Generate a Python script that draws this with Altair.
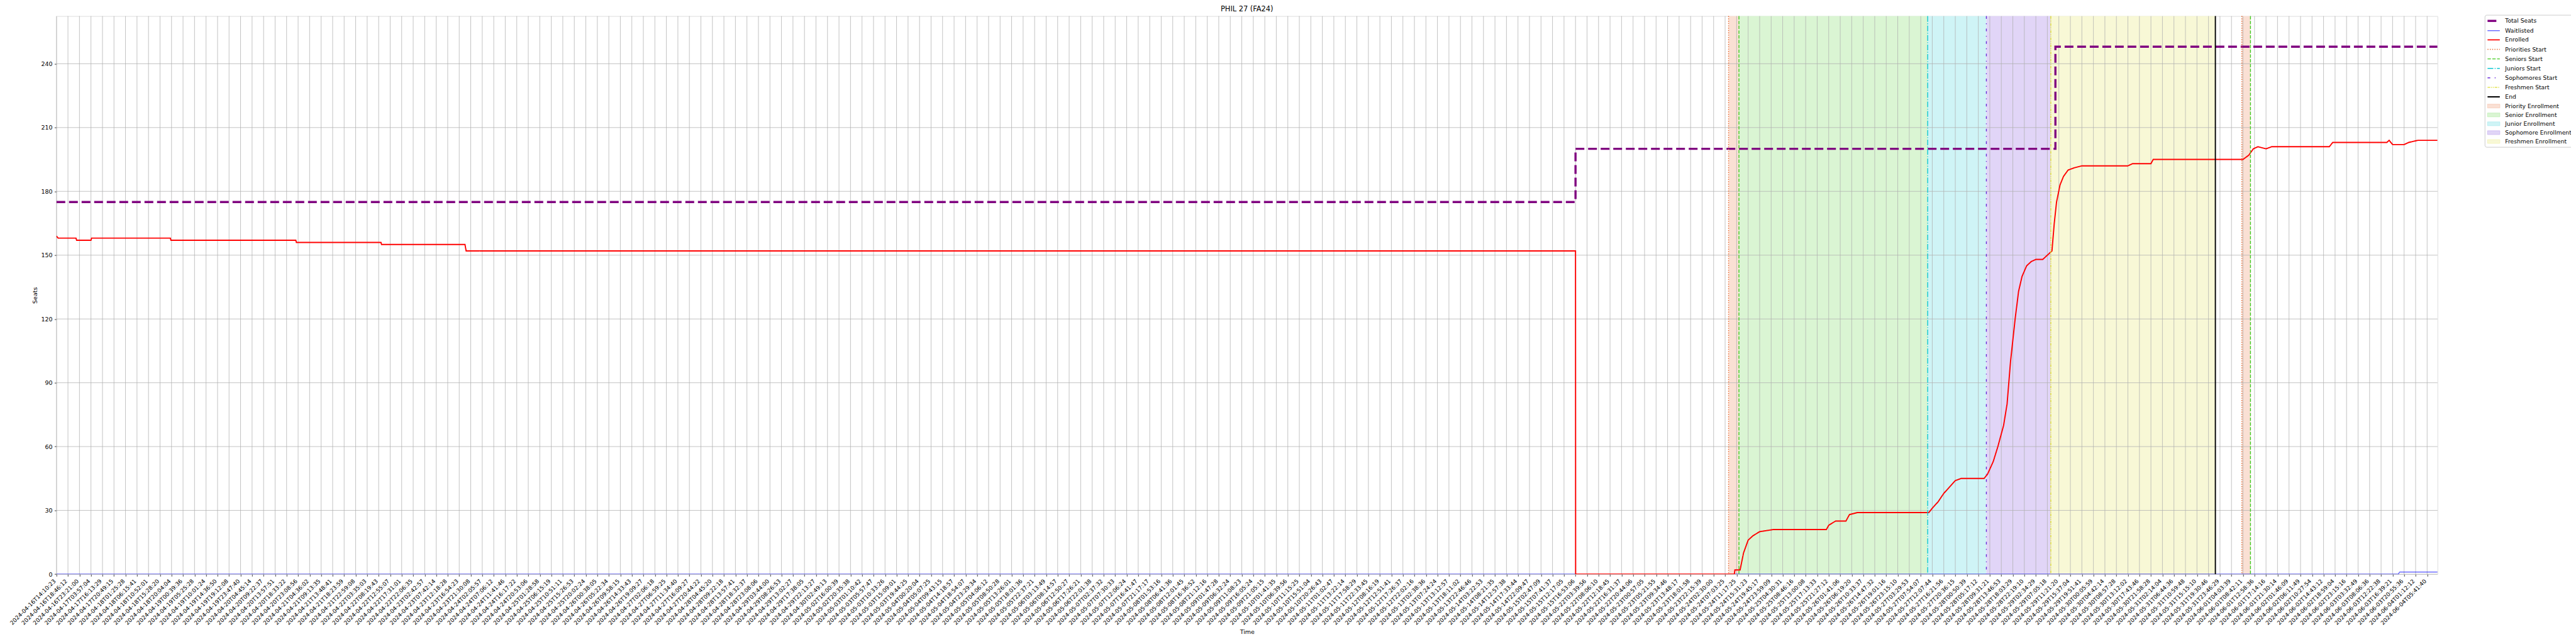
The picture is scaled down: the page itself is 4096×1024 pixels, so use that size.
import json
import altair as alt
import pandas as pd

# ---------------- data ----------------
tick_labels = [
"2024-04-16T14:10:23","2024-04-16T18:46:12","2024-04-16T23:21:00","2024-04-17T03:57:04","2024-04-17T16:13:29",
"2024-04-17T20:49:15","2024-04-18T01:25:28","2024-04-18T06:15:41","2024-04-18T10:52:01","2024-04-18T15:28:20",
"2024-04-18T20:04:04","2024-04-19T00:39:36","2024-04-19T05:25:28","2024-04-19T10:01:24","2024-04-19T14:36:50",
"2024-04-19T19:12:08","2024-04-19T23:47:40","2024-04-20T04:45:14","2024-04-20T09:22:37","2024-04-20T13:57:51",
"2024-04-20T18:33:22","2024-04-20T23:08:56","2024-04-21T04:36:02","2024-04-21T09:13:35","2024-04-21T13:48:41",
"2024-04-21T18:23:59","2024-04-21T22:59:08","2024-04-22T03:35:03","2024-04-22T08:19:43","2024-04-22T12:55:07",
"2024-04-22T17:31:01","2024-04-22T22:06:35","2024-04-23T02:42:57","2024-04-23T07:42:14","2024-04-23T12:18:28",
"2024-04-23T16:54:23","2024-04-23T21:30:08","2024-04-24T02:05:57","2024-04-24T07:06:12","2024-04-24T11:41:46",
"2024-04-24T16:17:22","2024-04-24T20:53:06","2024-04-25T01:28:58","2024-04-25T06:15:19","2024-04-25T10:51:11",
"2024-04-25T15:26:53","2024-04-25T20:02:24","2024-04-26T00:38:05","2024-04-26T05:22:34","2024-04-26T09:58:15",
"2024-04-26T14:33:43","2024-04-26T19:09:27","2024-04-27T02:06:18","2024-04-27T06:59:25","2024-04-27T11:34:40",
"2024-04-27T16:09:27","2024-04-27T20:44:22","2024-04-28T04:45:20","2024-04-28T09:22:18","2024-04-28T13:57:41",
"2024-04-28T18:32:37","2024-04-28T23:08:06","2024-04-29T03:44:00","2024-04-29T08:26:53","2024-04-29T13:02:27",
"2024-04-29T17:38:05","2024-04-29T22:13:27","2024-04-30T02:49:13","2024-05-02T16:00:39","2024-05-02T20:35:38",
"2024-05-03T01:10:42","2024-05-03T05:57:47","2024-05-03T10:33:26","2024-05-03T15:09:01","2024-05-03T19:44:25",
"2024-05-04T00:20:04","2024-05-04T05:07:25","2024-05-04T09:43:15","2024-05-04T14:18:57","2024-05-04T18:54:07",
"2024-05-04T23:29:34","2024-05-05T04:06:12","2024-05-05T08:50:28","2024-05-05T13:26:01","2024-05-05T18:01:36",
"2024-05-05T22:37:21","2024-05-06T03:13:49","2024-05-06T08:14:57","2024-05-06T12:50:27","2024-05-06T17:26:21",
"2024-05-06T22:01:38","2024-05-07T02:37:32","2024-05-07T07:30:33","2024-05-07T12:06:24","2024-05-07T16:41:47",
"2024-05-07T21:17:17","2024-05-08T01:53:16","2024-05-08T06:41:36","2024-05-08T12:01:45","2024-05-08T16:36:52",
"2024-05-08T21:12:16","2024-05-09T01:47:28","2024-05-09T06:32:24","2024-05-09T11:08:23","2024-05-09T16:05:24",
"2024-05-09T21:05:15","2024-05-10T01:41:35","2024-05-10T06:39:56","2024-05-10T11:15:25","2024-05-10T15:51:04",
"2024-05-10T20:26:43","2024-05-11T01:02:47","2024-05-11T13:22:14","2024-05-11T17:58:29","2024-05-11T22:33:45",
"2024-05-12T08:16:19","2024-05-12T12:51:41","2024-05-12T17:26:37","2024-05-12T22:02:16","2024-05-13T02:38:36",
"2024-05-13T07:24:24","2024-05-13T13:12:57","2024-05-13T18:11:02","2024-05-13T22:46:46","2024-05-14T03:22:53",
"2024-05-14T08:21:35","2024-05-14T12:57:38","2024-05-14T17:33:44","2024-05-14T22:09:47","2024-05-15T02:47:09",
"2024-05-15T07:41:37","2024-05-15T12:17:05","2024-05-15T16:53:06","2024-05-22T03:39:56","2024-05-22T08:06:10",
"2024-05-22T12:18:45","2024-05-22T16:31:37","2024-05-22T20:44:06","2024-05-23T00:57:05","2024-05-23T05:21:55",
"2024-05-23T09:34:46","2024-05-23T13:48:17","2024-05-23T18:01:58","2024-05-23T22:15:39","2024-05-24T02:30:00",
"2024-05-24T07:03:25","2024-05-24T11:17:25","2024-05-24T15:31:23","2024-05-24T19:45:17","2024-05-24T23:59:09",
"2024-05-25T04:30:31","2024-05-25T08:46:16","2024-05-25T13:00:08","2024-05-25T17:13:33","2024-05-25T21:27:12",
"2024-05-26T01:41:06","2024-05-26T06:19:20","2024-05-26T10:33:37","2024-05-26T14:47:32","2024-05-26T19:01:16",
"2024-05-26T23:15:10","2024-05-27T03:29:53","2024-05-27T07:54:07","2024-05-27T12:07:44","2024-05-27T16:21:56",
"2024-05-27T20:36:15","2024-05-28T00:50:39","2024-05-28T05:17:12","2024-05-28T09:31:21","2024-05-28T13:46:53",
"2024-05-28T18:03:29","2024-05-28T22:19:10","2024-05-29T02:34:29","2024-05-29T07:05:18","2024-05-29T11:21:20",
"2024-05-29T15:37:04","2024-05-29T19:51:41","2024-05-30T00:05:59","2024-05-30T04:42:14","2024-05-30T08:57:28",
"2024-05-30T13:12:02","2024-05-30T17:43:46","2024-05-30T21:58:28","2024-05-31T02:14:04","2024-05-31T06:44:36",
"2024-05-31T10:59:48","2024-05-31T15:15:10","2024-05-31T19:30:46","2024-05-31T23:46:29","2024-06-01T04:03:39",
"2024-06-01T08:42:11","2024-06-01T12:58:36","2024-06-01T17:14:16","2024-06-01T21:30:14","2024-06-02T01:46:09",
"2024-06-02T06:11:49","2024-06-02T10:27:54","2024-06-02T14:43:12","2024-06-02T18:59:04","2024-06-02T23:15:16",
"2024-06-03T03:32:49","2024-06-03T08:06:36","2024-06-03T12:22:38","2024-06-03T16:39:21","2024-06-03T20:55:36",
"2024-06-04T01:12:12","2024-06-04T05:41:40",
]
tick_positions = list(range(len(tick_labels)))
y_ticks = [0, 30, 60, 90, 120, 150, 180, 210, 240]

X_MAX = 206.9
Y_MAX = 262.4

# Total Seats (x in tick-index units)
seats_t = [0, 132.0, 132.0, 173.7, 173.7, 206.9]
seats_v = [175, 175, 200, 200, 248, 248]

# Waitlisted
wait_t = [0, 203.5, 203.6, 206.9]
wait_v = [0, 0, 1, 1]

# Enrolled
enr_t = [0, 0.15, 1.7, 1.75, 3.0, 3.05, 9.9, 9.95, 20.8, 20.85, 28.2, 28.25, 35.5, 35.6,
         132.0, 132.01, 145.8, 145.85, 146.3, 146.6, 147.0, 147.4, 148.0, 149.2, 153.8, 154.0,
         154.6, 155.5, 155.8, 156.5, 162.7, 163.0, 163.5, 164.0, 164.5, 165.0, 165.5, 167.5,
         167.8, 168.3, 168.7, 169.2, 169.5, 169.8, 170.2, 170.5, 170.8, 171.2, 171.6, 172.0,
         172.6, 173.0, 173.4, 173.6, 173.8, 174.1, 174.4, 174.8, 175.3, 176.0, 180.0, 180.4,
         182.0, 182.2, 190.0, 190.5, 190.9, 191.3, 192.0, 192.5, 197.5, 197.8, 202.5, 202.7,
         203.0, 204.0, 204.4, 205.2, 206.9]
enr_v = [159, 158, 158, 157, 157, 158, 158, 157, 157, 156, 156, 155, 155, 152,
         152, 0, 0, 2, 2, 10, 16, 18, 20, 21, 21, 23,
         25, 25, 28, 29, 29, 31, 34, 38, 41, 44, 45, 45,
         47, 53, 60, 70, 80, 100, 120, 133, 140, 145, 147, 148,
         148, 150, 152, 165, 175, 183, 187, 190, 191, 192, 192, 193,
         193, 195, 195, 197, 200, 201, 200, 201, 201, 203, 203, 204,
         202, 202, 203, 204, 204]

# vertical marker lines
vline_names = ["Priorities Start", "Seniors Start", "Juniors Start", "Sophomores Start",
               "Freshmen Start", "End", "Priorities Start", "Seniors Start"]
vline_t = [145.3, 146.2, 162.6, 167.7, 173.3, 187.6, 189.9, 190.65]

# shaded enrollment periods
period_names = ["Priority Enrollment", "Senior Enrollment", "Junior Enrollment",
                "Sophomore Enrollment", "Freshmen Enrollment", "Priority Enrollment"]
period_start = [145.3, 146.2, 162.6, 167.7, 173.3, 189.9]
period_end = [146.2, 162.6, 167.7, 173.3, 187.6, 190.65]

# legend entries
legend_names = ["Total Seats", "Waitlisted", "Enrolled", "Priorities Start", "Seniors Start",
                "Juniors Start", "Sophomores Start", "Freshmen Start", "End",
                "Priority Enrollment", "Senior Enrollment", "Junior Enrollment",
                "Sophomore Enrollment", "Freshmen Enrollment"]

# ---------------- styles ----------------
line_colors = ["#800080", "#0000ff", "#ff0000", "#e8652a", "#44cc22",
               "#10c8d2", "#6a2bd9", "#dddd33", "#000000"]
period_base = ["#e8652a", "#44cc22", "#10c8d2", "#6a2bd9", "#dddd33"]
ALPHA = 0.2


def blend(hexcol, a):
    r, g, b = (int(hexcol[i:i + 2], 16) for i in (1, 3, 5))
    return "#%02x%02x%02x" % tuple(round(255 - a * (255 - c)) for c in (r, g, b))


period_face = [blend(c, ALPHA) for c in period_base]
period_edge = [blend(c, 1 - (1 - ALPHA) ** 2) for c in period_base]

stroke_range = line_colors + period_edge
fill_range = ["transparent"] * 9 + period_face
dash_range = [[14, 6], [1, 0], [1, 0], [1.4, 2.3], [5.3, 2.3],
              [9.1, 2.3, 1.4, 2.3], [4.3, 7.1, 1.4, 7.1], [4.3, 1.4, 1.4, 1.4, 1.4, 1.4], [1, 0],
              [1, 0], [1, 0], [1, 0], [1, 0], [1, 0]]
width_range = [3.4, 1.0, 1.9, 1.4, 1.4, 1.4, 1.4, 1.4, 1.9, 0.8, 0.8, 0.8, 0.8, 0.8]
LINE_SYM = "M-1,0L2.9,0"
PATCH_SYM = "M-1,-0.6L2.9,-0.6L2.9,0.6L-1,0.6Z"
shape_range = [LINE_SYM] * 9 + [PATCH_SYM] * 5

# ---------------- layout ----------------
W = 3786
H = 887.4
FONT = "DejaVu Sans"
FS = 9.5
LFS = 9.2
XFS = 9.0
GRID = "#b0b0b0"

rows = []
for name, ts, vs in [("Total Seats", seats_t, seats_v), ("Waitlisted", wait_t, wait_v),
                     ("Enrolled", enr_t, enr_v)]:
    for i, (t, v) in enumerate(zip(ts, vs)):
        rows.append({"name": name, "t": t, "v": v, "i": i})
lines_df = pd.DataFrame(rows)
vlines_df = pd.DataFrame({"name": vline_names, "t": vline_t})
periods_df = pd.DataFrame({"name": period_names, "t": period_start, "t2": period_end,
                           "lo": [0] * len(period_names), "hi": [Y_MAX] * len(period_names)})
xgrid_df = pd.DataFrame({"t": tick_positions})
ygrid_df = pd.DataFrame({"v": y_ticks})

label_expr = json.dumps(tick_labels) + "[datum.value]"

x_axis = alt.Axis(values=tick_positions, labelExpr=label_expr, labelAngle=-45,
                  labelAlign="right", labelBaseline="top", labelOverlap=False,
                  labelOffset=-6, labelPadding=3.0, labelFont=FONT, labelFontSize=XFS,
                  labelColor="black", labelBound=False, labelFlush=False,
                  tickSize=3.3, tickColor="black", tickWidth=0.76, domain=False, grid=False,
                  title="Time", titleFont=FONT, titleFontSize=FS, titleFontWeight="normal",
                  titleColor="black", titlePadding=4)
y_axis = alt.Axis(values=y_ticks, labelFont=FONT, labelFontSize=FS, labelColor="black",
                  labelPadding=3.3, tickSize=3.3, tickColor="black", tickWidth=0.76,
                  domain=False, grid=False, title="Seats", titleFont=FONT, titleFontSize=FS,
                  titleFontWeight="normal", titleColor="black", titlePadding=5)
x_scale = alt.Scale(domain=[0, X_MAX], nice=False, zero=False)
y_scale = alt.Scale(domain=[0, Y_MAX], nice=False, zero=False)

X = alt.X("t:Q", scale=x_scale, axis=x_axis)
Y = alt.Y("v:Q", scale=y_scale, axis=y_axis)

legend = alt.Legend(title=None, orient="none", legendX=3861, legendY=-2,
                    symbolSize=100, labelFont=FONT,
                    labelFontSize=LFS, labelColor="black", labelOffset=16, labelLimit=400,
                    rowPadding=3.1, padding=2.6, strokeColor="#cccccc", cornerRadius=3,
                    fillColor="white", symbolOpacity=1, direction="vertical")
color = alt.Color("name:N", scale=alt.Scale(domain=legend_names, range=stroke_range),
                  legend=legend)
dash = alt.StrokeDash("name:N", scale=alt.Scale(domain=legend_names, range=dash_range),
                      legend=legend)
width = alt.StrokeWidth("name:N", scale=alt.Scale(type="ordinal", domain=legend_names,
                                                  range=width_range), legend=legend)
fill = alt.Fill("name:N", scale=alt.Scale(domain=legend_names, range=fill_range),
                legend=legend)
shape = alt.Shape("name:N", scale=alt.Scale(domain=legend_names, range=shape_range),
                  legend=legend)

rects = alt.Chart(periods_df).mark_rect(opacity=1, strokeWidth=0).encode(
    x=X, x2="t2:Q", y=alt.Y("lo:Q", scale=y_scale, axis=y_axis), y2="hi:Q", fill=fill)

xgrid = alt.Chart(xgrid_df).mark_rule(color=GRID, strokeWidth=0.76).encode(x=X)
ygrid = alt.Chart(ygrid_df).mark_rule(color=GRID, strokeWidth=0.76).encode(y=Y)

series = alt.Chart(lines_df).mark_line(clip=True, strokeCap="butt").encode(
    x=X, y=Y, order="i:Q", color=color, strokeDash=dash, strokeWidth=width, detail="name:N")

vlines = alt.Chart(vlines_df).mark_rule(strokeCap="butt").encode(
    x=X, color=color, strokeDash=dash, strokeWidth=width)

# carries the legend's symbol shapes only; it draws no points
shapes = alt.Chart(vlines_df).transform_filter("datum.t < 0").mark_point(
    opacity=1).encode(x=X, shape=shape)

chart = alt.layer(rects, xgrid, ygrid, series, vlines, shapes).properties(
    width=W, height=H,
    title=alt.Title("PHIL 27 (FA24)", font=FONT, fontSize=11.4, fontWeight="normal",
                    color="black", offset=3, anchor="middle"),
    autosize=alt.AutoSizeParams(type="none"),
    padding={"left": 81.75, "top": 17.6, "right": 212, "bottom": 110},
).configure_view(stroke="black", strokeWidth=0.76).configure(font=FONT)

chart.save("out.html", embed_options={"renderer": "svg", "actions": False})
